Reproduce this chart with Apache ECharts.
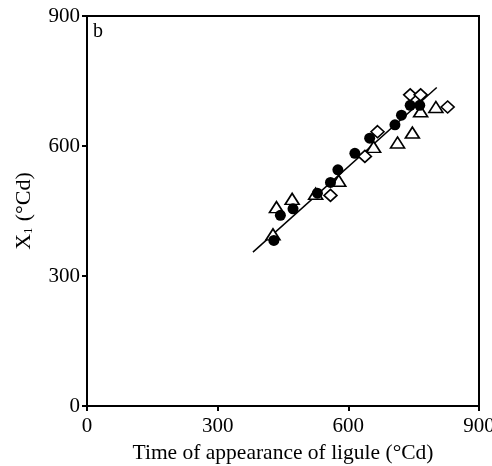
<!DOCTYPE html>
<html><head><meta charset="utf-8">
<script src="https://cdn.jsdelivr.net/npm/echarts@6/dist/echarts.min.js"></script>
<style>html,body{margin:0;padding:0;background:#fff}#c{width:492px;height:466px}</style>
</head><body><div id="c"></div>
<script>
// Filled circles
const circX = [429, 444, 473, 529, 559, 576, 615, 649, 707, 722, 742, 764];
const circY = [382, 440, 455, 491, 516, 545, 583, 618, 649, 671, 694, 694];
// Open triangles
const triX = [427, 435, 471, 525, 578, 658, 713, 747, 766, 801];
const triY = [396, 459, 478, 490, 520, 598, 608, 631, 680, 690];
// Open diamonds
const diaX = [559, 638, 667, 742, 766, 828];
const diaY = [486, 576, 633, 718, 718, 690];
// Fitted line endpoints
const fitX = [381, 803];
const fitY = [355, 735];
const ticks = [0, 300, 600, 900];

const zip = (a, b) => a.map((v, i) => [v, b[i]]);
const font = 'Liberation Serif, Times New Roman, serif';

const chart = echarts.init(document.getElementById('c'));
chart.setOption({
  animation: false,
  grid: { left: 87, right: 13, top: 16, bottom: 60, outerBoundsMode: 'none', containLabel: false,
    show: true, borderColor: '#000', borderWidth: 2, backgroundColor: 'transparent' },
  xAxis: {
    type: 'value', min: ticks[0], max: ticks[3], interval: 300,
    axisLine: { show: true, lineStyle: { color: '#000', width: 2 } },
    axisTick: { show: true, length: 5, lineStyle: { color: '#000', width: 2 } },
    axisLabel: { color: '#000', fontFamily: font, fontSize: 21, margin: 10 },
    splitLine: { show: false },
    name: 'Time of appearance of ligule (°Cd)', nameLocation: 'middle', nameGap: 36,
    nameTextStyle: { color: '#000', fontFamily: font, fontSize: 21.5 }
  },
  yAxis: {
    type: 'value', min: ticks[0], max: ticks[3], interval: 300,
    axisLine: { show: true, lineStyle: { color: '#000', width: 2 } },
    axisTick: { show: true, length: 5, lineStyle: { color: '#000', width: 2 } },
    axisLabel: { color: '#000', fontFamily: font, fontSize: 21, margin: 7 },
    splitLine: { show: false },
    name: '{a|X}{s|1}{a| (°Cd)}', nameLocation: 'middle', nameGap: 52,
    nameTextStyle: { color: '#000', fontFamily: font, fontSize: 22,
      rich: { a: { fontFamily: font, fontSize: 22, color: '#000' }, s: { fontFamily: font, fontSize: 12, color: '#000', verticalAlign: 'bottom', padding: [10, 1, 0, 0] } } }
  },
  graphic: [{ type: 'text', left: 93, top: 22, style: { text: 'b', font: '20px ' + font, fill: '#000' } }],
  series: [
    { type: 'line', data: zip(fitX, fitY), symbol: 'none', lineStyle: { color: '#000', width: 1.5 }, z: 1 },
    { type: 'scatter', data: zip(triX, triY), symbol: 'triangle', symbolSize: [14, 11],
      itemStyle: { color: '#fff', borderColor: '#000', borderWidth: 1.6, opacity: 1 }, z: 2 },
    { type: 'scatter', data: zip(diaX, diaY), symbol: 'diamond', symbolSize: [13, 12],
      itemStyle: { color: '#fff', borderColor: '#000', borderWidth: 1.6, opacity: 1 }, z: 2 },
    { type: 'scatter', data: zip(circX, circY), symbol: 'circle', symbolSize: 11,
      itemStyle: { color: '#000', opacity: 1 }, z: 3 }
  ]
});
</script></body></html>
